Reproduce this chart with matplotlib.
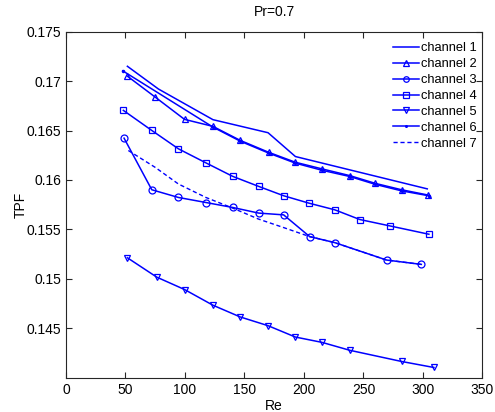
import matplotlib
matplotlib.use('Agg')
import matplotlib.pyplot as plt
import matplotlib.ticker as tkr

plt.rcParams['font.family'] = ['Liberation Sans', 'DejaVu Sans']

# ---------- data ----------#
re_1 = [51.6, 77.7, 123.5, 169.8, 192.8, 303.6]
tpf_1 = [0.1715, 0.1692, 0.1661, 0.16478, 0.16237, 0.1591]

re_2 = [51.6, 74.9, 99.6, 123.5, 146.5, 170.3, 192.8, 215.2, 238.5, 260.1, 282.0, 304.5]
tpf_2 = [0.1705, 0.16839, 0.16613, 0.16542, 0.1640, 0.1628, 0.16179, 0.16112, 0.16044, 0.15965, 0.15901, 0.15847]

re_3 = [48.8, 72.1, 94.5, 117.6, 140.0, 161.9, 182.9, 204.8, 225.9, 269.4, 298.6]
tpf_3 = [0.16423, 0.15901, 0.15823, 0.15772, 0.15722, 0.15665, 0.15647, 0.15427, 0.15366, 0.1519, 0.15146]

re_4 = [48.2, 72.1, 94.5, 117.6, 140.0, 161.9, 183.0, 204.0, 225.9, 246.9, 271.9, 305.0]
tpf_4 = [0.16704, 0.16501, 0.16315, 0.16173, 0.16037, 0.15935, 0.1584, 0.15766, 0.15698, 0.156, 0.15536, 0.15451]

re_5 = [51.6, 76.3, 99.6, 123.5, 146.5, 169.8, 192.8, 215.2, 238.5, 282.0, 309.2]
tpf_5 = [0.15213, 0.15017, 0.14892, 0.14733, 0.14614, 0.14526, 0.14411, 0.14357, 0.14277, 0.14164, 0.14103]

re_6 = [47.7, 123.5, 146.5, 170.3, 192.8, 215.2, 238.5, 260.1, 282.0, 305.0]
tpf_6 = [0.17104, 0.16535, 0.16392, 0.16272, 0.1617, 0.16098, 0.16035, 0.15955, 0.1589, 0.1584]

re_7 = [52.4, 74.9, 94.5, 117.6, 140.0, 161.9, 183.0, 204.8, 225.9, 269.4, 298.6]
tpf_7 = [0.16298, 0.16128, 0.15959, 0.15823, 0.15716, 0.15604, 0.15518, 0.15427, 0.15366, 0.1519, 0.15146]

x_ticks = [0, 50, 100, 150, 200, 250, 300, 350]
y_ticks = [0.145, 0.15, 0.155, 0.16, 0.165, 0.17, 0.175]

blue = '#0000ff'
fs = 10

fig = plt.figure(figsize=(4.95, 4.12), dpi=100)
ax = fig.add_axes([0.1333, 0.0833, 0.8414, 0.8398])

mk = dict(markersize=5, markerfacecolor='none', markeredgecolor=blue, markeredgewidth=0.9)
ax.plot(re_1, tpf_1, linestyle='-', color=blue, lw=1.1, label='channel 1')
ax.plot(re_2, tpf_2, linestyle='-', marker='^', color=blue, lw=1.1, label='channel 2', **mk)
ax.plot(re_3, tpf_3, linestyle='-', marker='o', color=blue, lw=1.1, label='channel 3', **mk)
ax.plot(re_4, tpf_4, linestyle='-', marker='s', color=blue, lw=1.1, label='channel 4', **mk)
ax.plot(re_5, tpf_5, linestyle='-', marker='v', color=blue, lw=1.1, label='channel 5', **mk)
ax.plot(re_6, tpf_6, linestyle='-', marker='.', color=blue, lw=1.1, markersize=3, label='channel 6')
ax.plot(re_7, tpf_7, linestyle='--', color=blue, lw=1.0, dashes=(3, 2), label='channel 7')

ax.set_xlim(0, 350)
ax.set_ylim(0.14, 0.175)
ax.set_xticks(x_ticks)
ax.set_yticks(y_ticks)
ax.yaxis.set_major_formatter(tkr.FuncFormatter(lambda v, p: '%g' % round(v, 3)))
ax.tick_params(direction='in', top=True, right=True, length=4, width=0.8,
               labelsize=fs, colors='#262626', labelcolor='black')
for spine in ax.spines.values():
    spine.set_color('#262626')
    spine.set_linewidth(0.8)

ax.set_xlabel('Re', fontsize=fs, labelpad=2)
ax.set_ylabel('TPF', fontsize=fs, labelpad=-1)
ax.set_title('Pr=0.7', fontsize=fs, pad=11)

ax.legend(loc='upper right', frameon=False, fontsize=9.3, handlelength=2.0,
          handletextpad=0.15, labelspacing=0.3, borderaxespad=0.15,
          bbox_to_anchor=(1.003, 0.99), markerscale=0.8)

plt.savefig('out.png', dpi=100)
